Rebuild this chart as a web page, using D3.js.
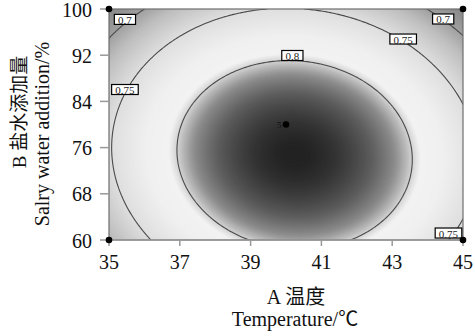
<!DOCTYPE html>
<html><head><meta charset="utf-8">
<script src="https://cdn.jsdelivr.net/npm/d3@7"></script>
<style>body{margin:0;background:#fff}</style>
</head><body><svg id="c" width="475" height="336"></svg>
<script>
const xTicks=[35,37,39,41,43,45];
const yTicks=[60,68,76,84,92,100];
const xDomain=[35,45], yDomain=[60,100];
// response-surface coefficients (coded a=(A-40)/5, b=(B-80)/20): b0, a, b, ab, a^2, b^2
const coef=[0.8315,0.0061,-0.0276,-0.0064,-0.080,-0.053];
const contourLevels=[0.7,0.75,0.8];
const labelText=["0.7","0.75","0.8","0.75","0.7","0.75"];
const labelA=[35.45,35.45,40.18,43.31,44.44,44.59];
const labelB=[98.2,86.06,91.95,94.8,98.27,61.21];
const designA=[35,35,45,45,40];
const designB=[100,60,100,60,80];
const designN=[1,1,1,1,5];
const xTitle=["A 温度","Temperature/℃"];
const yTitle=["B 盐水添加量","Salry water addition/%"];
const shadeV=[0.64,0.70,0.72,0.75,0.78,0.795,0.80,0.805,0.81,0.82,0.828,0.8335,0.837];
const shadeG=[110,160,190,222,240,242,212,175,140,95,65,42,25];

const W=475,H=336,L=109,R=463,T=9,B=240;
const font='"Liberation Serif","Times New Roman","Noto Sans CJK SC",serif';
const svg=d3.select("#c");
svg.append("rect").attr("width",W).attr("height",H).attr("fill","#fff");
const xs=d3.scaleLinear().domain(xDomain).range([L,R]);
const ys=d3.scaleLinear().domain(yDomain).range([B,T]);
const f=(A,Bv)=>{const a=(A-40)/5,b=(Bv-80)/20;return coef[0]+coef[1]*a+coef[2]*b+coef[3]*a*b+coef[4]*a*a+coef[5]*b*b;};
const gray=d3.scaleLinear().domain(shadeV).range(shadeG).clamp(true);
const col=v=>{const g=Math.round(gray(v));return d3.rgb(g,g,g).toString();};

const nx=180,ny=118;
const vals=new Array(nx*ny);
for(let j=0;j<ny;j++)for(let i=0;i<nx;i++){
  vals[j*nx+i]=f(35+10*i/(nx-1),100-40*j/(ny-1));
}
const proj=d3.geoTransform({point(x,y){this.stream.point(xs(35+10*(x-0.5)/(nx-1)),ys(100-40*(y-0.5)/(ny-1)));}});
const path=d3.geoPath(proj);
svg.append("clipPath").attr("id","clip").append("rect").attr("x",L).attr("y",T).attr("width",R-L).attr("height",B-T);
const g=svg.append("g").attr("clip-path","url(#clip)");
const mn=d3.min(vals),mx=d3.max(vals);
const step=0.0003;
const th=d3.range(Math.floor(mn*1000)/1000,mx,step);
const bands=d3.contours().size([nx,ny]).thresholds(th)(vals);
g.selectAll("path.band").data(bands).join("path").attr("class","band")
 .attr("d",path).attr("fill",d=>col(d.value+step/2)).attr("stroke",d=>col(d.value+step/2)).attr("stroke-width",0.5);
const lines=d3.contours().size([nx,ny]).thresholds(contourLevels)(vals);
g.selectAll("path.line").data(lines).join("path").attr("class","line")
 .attr("d",path).attr("fill","none").attr("stroke","#4a4a4a").attr("stroke-width",1.1);

// frame
svg.append("rect").attr("x",L).attr("y",T).attr("width",R-L).attr("height",B-T).attr("fill","none").attr("stroke","#6e6e6e").attr("stroke-width",1.2);
svg.append("line").attr("x1",L).attr("x2",R).attr("y1",B).attr("y2",B).attr("stroke","#999").attr("stroke-width",1.5);
// ticks
svg.selectAll("line.yt").data(yTicks).join("line").attr("x1",L-9).attr("x2",L).attr("y1",d=>ys(d)).attr("y2",d=>ys(d)).attr("stroke","#999").attr("stroke-width",1.5);
svg.selectAll("line.xt").data(xTicks).join("line").attr("x1",d=>xs(d)).attr("x2",d=>xs(d)).attr("y1",B).attr("y2",B+6).attr("stroke","#999").attr("stroke-width",1.5);
svg.selectAll("text.yl").data(yTicks).join("text").attr("x",92).attr("y",d=>ys(d)+7.5).attr("text-anchor","end")
 .attr("font-family",font).attr("font-size",20).attr("fill","#111").text(d=>d);
svg.selectAll("text.xl").data(xTicks).join("text").attr("x",d=>xs(d)).attr("y",269).attr("text-anchor","middle")
 .attr("font-family",font).attr("font-size",20).attr("fill","#111").text(d=>d);

// contour labels
const lab=svg.selectAll("g.lab").data(labelText).join("g").attr("transform",(d,i)=>`translate(${xs(labelA[i])},${ys(labelB[i])})`);
lab.append("rect").attr("x",d=>-(d.length*2.7+2.5)).attr("y",-5).attr("width",d=>d.length*5.4+5).attr("height",10).attr("fill","#fff").attr("stroke","#000").attr("stroke-width",1.2);
lab.append("text").attr("text-anchor","middle").attr("y",4.5).attr("font-family",font).attr("font-size",11).attr("fill","#222").text(d=>d);

// design points
svg.selectAll("circle.dp").data(designA).join("circle").attr("cx",d=>xs(d)).attr("cy",(d,i)=>ys(designB[i])).attr("r",3.3).attr("fill","#000");
svg.selectAll("text.dn").data(designN.filter(n=>n>1)).join("text").attr("x",xs(designA[4])-4.5).attr("y",ys(designB[4])+3)
 .attr("text-anchor","end").attr("font-family",font).attr("font-size",9).attr("fill","#111").text(d=>d);

// titles
svg.append("text").attr("x",296).attr("y",304).attr("text-anchor","middle").attr("font-family",font).attr("font-size",20).attr("fill","#111").text(xTitle[0]);
svg.append("text").attr("x",295).attr("y",326).attr("text-anchor","middle").attr("font-family",font).attr("font-size",20).attr("fill","#111").text(xTitle[1]);
svg.append("text").attr("transform","translate(26,112) rotate(-90)").attr("text-anchor","middle").attr("font-family",font).attr("font-size",19).attr("fill","#111").text(yTitle[0]);
svg.append("text").attr("transform","translate(49,134) rotate(-90)").attr("text-anchor","middle").attr("font-family",font).attr("font-size",20).attr("fill","#111").text(yTitle[1]);
</script></body></html>
